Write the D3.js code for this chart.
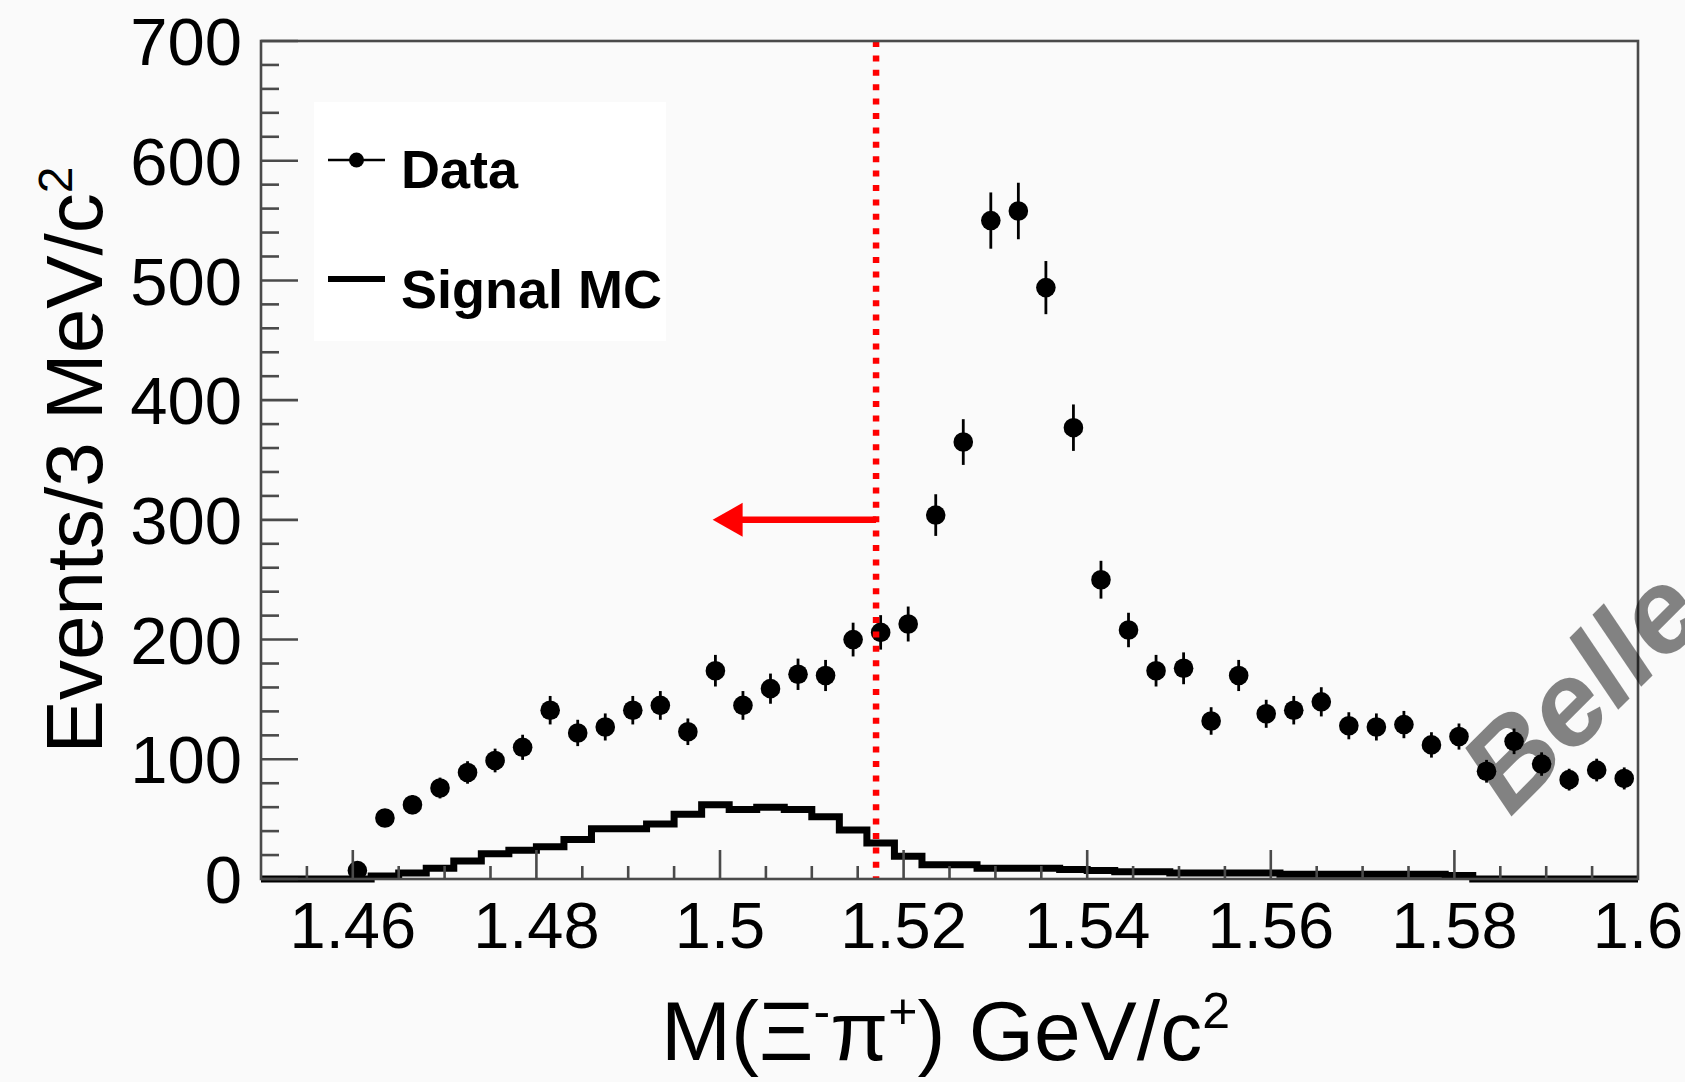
<!DOCTYPE html>
<html>
<head>
<meta charset="utf-8">
<script src="https://cdn.jsdelivr.net/npm/d3@7"></script>
<style>
  html, body { margin: 0; padding: 0; background: #fafafa; overflow: hidden; }
  svg { display: block; font-family: "Liberation Sans", Arial, Helvetica, sans-serif; }
</style>
</head>
<body>
<svg id="chart" width="1685" height="1082"></svg>
<script>
// ---- data -------------------------------------------------------------
// Data points: bin centres (GeV/c^2), events per 3 MeV/c^2, statistical errors
const dataMass = [1.4605, 1.4635, 1.4665, 1.4695, 1.4725, 1.4755, 1.4785, 1.4815, 1.4845, 1.4875,
                  1.4905, 1.4935, 1.4965, 1.4995, 1.5025, 1.5055, 1.5085, 1.5115, 1.5145, 1.5175,
                  1.5205, 1.5235, 1.5265, 1.5295, 1.5325, 1.5355, 1.5385, 1.5415, 1.5445, 1.5475,
                  1.5505, 1.5535, 1.5565, 1.5595, 1.5625, 1.5655, 1.5685, 1.5715, 1.5745, 1.5775,
                  1.5805, 1.5835, 1.5865, 1.5895, 1.5925, 1.5955, 1.5985];
const dataEvents = [7, 51, 62, 76, 89, 99, 110, 141, 122, 127,
                    141, 145, 123, 174, 145, 159, 171, 170, 200, 206,
                    213, 304, 365, 550, 558, 494, 377, 250, 208, 174,
                    176, 132, 170, 138, 141, 148, 128, 127, 129, 112,
                    119, 90, 115, 96, 83, 91, 84];
const dataErrors = [2.6, 7.1, 7.9, 8.7, 9.4, 9.9, 10.5, 11.9, 11.0, 11.3,
                    11.9, 12.0, 11.1, 13.2, 12.0, 12.6, 13.1, 13.0, 14.1, 14.4,
                    14.6, 17.4, 19.1, 23.5, 23.6, 22.2, 19.4, 15.8, 14.4, 13.2,
                    13.3, 11.5, 13.0, 11.7, 11.9, 12.2, 11.3, 11.3, 11.4, 10.6,
                    10.9, 9.5, 10.7, 9.8, 9.1, 9.5, 9.2];

// Signal MC histogram: lower bin edges (GeV/c^2) and contents
const mcBinLow = [1.450, 1.453, 1.456, 1.459, 1.462, 1.465, 1.468, 1.471, 1.474, 1.477,
                  1.480, 1.483, 1.486, 1.489, 1.492, 1.495, 1.498, 1.501, 1.504, 1.507,
                  1.510, 1.513, 1.516, 1.519, 1.522, 1.525, 1.528, 1.531, 1.534, 1.537,
                  1.540, 1.543, 1.546, 1.549, 1.552, 1.555, 1.558, 1.561, 1.564, 1.567,
                  1.570, 1.573, 1.576, 1.579, 1.582, 1.585, 1.588, 1.591, 1.594, 1.597];
const mcEvents = [0, 0, 0, 0, 2.5, 5, 9, 15, 21, 24,
                  27, 33, 42, 42, 46, 54, 62, 58, 60, 58,
                  52, 41, 30, 19, 12, 12, 9, 9, 9, 8,
                  7, 6, 6, 5, 5, 5, 5, 4, 4, 4,
                  4, 4, 4, 3, 0, 0, 0, 0, 0, 0];
const mcUpperEdge = 1.600;

// Selection cut and arrow
const cutMass = 1.517;
const arrowLevel = 300;
const arrowTipMass = 1.4992;

// Axes
const xDomain = [1.45, 1.60];
const yDomain = [0, 700];
const xTicks = [1.46, 1.48, 1.50, 1.52, 1.54, 1.56, 1.58, 1.60];
const xTickLabels = ["1.46", "1.48", "1.5", "1.52", "1.54", "1.56", "1.58", "1.6"];
const yTicks = [0, 100, 200, 300, 400, 500, 600, 700];
const yTickLabels = ["0", "100", "200", "300", "400", "500", "600", "700"];
const legendLabels = ["Data", "Signal MC"];

// ---- drawing ----------------------------------------------------------
const svg = d3.select("#chart");
const W = 1685, H = 1082;
const plot = { left: 261, right: 1638, top: 41, bottom: 879 };

const x = d3.scaleLinear().domain(xDomain).range([plot.left, plot.right]);
const y = d3.scaleLinear().domain(yDomain).range([plot.bottom, plot.top]);

svg.append("rect").attr("width", W).attr("height", H).attr("fill", "#fafafa");

// legend box (drawn under the data)
const leg = svg.append("g");
leg.append("rect").attr("x", 314).attr("y", 102).attr("width", 352).attr("height", 239)
  .attr("fill", "#ffffff");

// Signal MC histogram
const histPts = mcBinLow.map((e, i) => [e, mcEvents[i]]);
histPts.push([mcUpperEdge, mcEvents[mcEvents.length - 1]]);
const histLine = d3.line().x(d => x(d[0])).y(d => y(d[1])).curve(d3.curveStepAfter);
svg.append("path").attr("d", histLine(histPts))
  .attr("fill", "none").attr("stroke", "#000").attr("stroke-width", 7)
  .attr("stroke-linejoin", "miter");

// Data points with error bars
const dg = svg.append("g");
dataMass.forEach((m, i) => {
  dg.append("line")
    .attr("x1", x(m)).attr("x2", x(m))
    .attr("y1", y(dataEvents[i] - dataErrors[i])).attr("y2", y(dataEvents[i] + dataErrors[i]))
    .attr("stroke", "#000").attr("stroke-width", 2.8);
  dg.append("circle").attr("cx", x(m)).attr("cy", y(dataEvents[i])).attr("r", 9.8)
    .attr("fill", "#000");
});

// Red dotted cut line
svg.append("line")
  .attr("x1", x(cutMass)).attr("x2", x(cutMass))
  .attr("y1", y(yDomain[1])).attr("y2", y(yDomain[0]))
  .attr("stroke", "#ff0000").attr("stroke-width", 6.5).attr("stroke-dasharray", "6 8.4");

// Red arrow
const headLen = 30, headHalf = 17;
svg.append("line")
  .attr("x1", x(cutMass)).attr("x2", x(arrowTipMass) + headLen - 2)
  .attr("y1", y(arrowLevel)).attr("y2", y(arrowLevel))
  .attr("stroke", "#ff0000").attr("stroke-width", 6.5);
svg.append("path")
  .attr("d", `M${x(arrowTipMass)},${y(arrowLevel)} L${x(arrowTipMass) + headLen},${y(arrowLevel) - headHalf} L${x(arrowTipMass) + headLen},${y(arrowLevel) + headHalf} Z`)
  .attr("fill", "#ff0000");

// Frame
const frameColor = "#4a4a4a";
svg.append("rect")
  .attr("x", plot.left).attr("y", plot.top)
  .attr("width", plot.right - plot.left).attr("height", plot.bottom - plot.top)
  .attr("fill", "none").attr("stroke", frameColor).attr("stroke-width", 2.6);

// Y axis ticks
const yMinor = d3.range(0, 701, 20);
const ticksG = svg.append("g").attr("stroke", frameColor).attr("stroke-width", 2.6);
yMinor.forEach(v => {
  const major = v % 100 === 0;
  ticksG.append("line").attr("x1", plot.left).attr("x2", plot.left + (major ? 37 : 18))
    .attr("y1", y(v)).attr("y2", y(v));
});
// X axis ticks
const xMinor = d3.range(0, 30).map(k => 1.455 + k * 0.005).filter(v => v < 1.5999);
xMinor.forEach(v => {
  const major = Math.abs(Math.round(v * 50) - v * 50) < 1e-6;
  ticksG.append("line").attr("x1", x(v)).attr("x2", x(v))
    .attr("y1", plot.bottom).attr("y2", plot.bottom - (major ? 29 : 13));
});

// Tick labels
const yLab = svg.append("g").attr("font-size", 67).attr("fill", "#000").attr("text-anchor", "end");
yTicks.forEach((v, i) => {
  yLab.append("text").attr("x", 242).attr("y", y(v)).attr("dy", "0.36em").text(yTickLabels[i]);
});
const xLab = svg.append("g").attr("font-size", 65).attr("fill", "#000").attr("text-anchor", "middle");
xTicks.forEach((v, i) => {
  xLab.append("text").attr("x", x(v)).attr("y", 948).text(xTickLabels[i]);
});

// Axis titles
const xt = svg.append("text").attr("x", (plot.left + plot.right) / 2 - 4).attr("y", 1060)
  .attr("text-anchor", "middle").attr("font-size", 84).attr("fill", "#000");
xt.append("tspan").text("M(Ξ");
xt.append("tspan").attr("font-size", 50).attr("dy", -32).text("-");
xt.append("tspan").attr("dy", 32).text("π");
xt.append("tspan").attr("font-size", 50).attr("dy", -32).text("+");
xt.append("tspan").attr("dy", 32).text(") GeV/c");
xt.append("tspan").attr("font-size", 50).attr("dy", -32).text("2");

const yt = svg.append("text").attr("transform", "translate(102,460) rotate(-90)")
  .attr("text-anchor", "middle").attr("font-size", 80).attr("fill", "#000");
yt.append("tspan").text("Events/3 MeV/c");
yt.append("tspan").attr("font-size", 48).attr("dy", -30).text("2");

// Legend content
leg.append("line").attr("x1", 328).attr("x2", 385).attr("y1", 160).attr("y2", 160)
  .attr("stroke", "#000").attr("stroke-width", 2.5);
leg.append("circle").attr("cx", 356.5).attr("cy", 160).attr("r", 7.5).attr("fill", "#000");
leg.append("text").attr("x", 401).attr("y", 188).attr("font-size", 54).attr("font-weight", "bold")
  .text(legendLabels[0]);
leg.append("line").attr("x1", 328).attr("x2", 385).attr("y1", 279).attr("y2", 279)
  .attr("stroke", "#000").attr("stroke-width", 6);
leg.append("text").attr("x", 401).attr("y", 308).attr("font-size", 54).attr("font-weight", "bold")
  .text(legendLabels[1]);

// Watermark
svg.append("text").attr("transform", "translate(1510,818) rotate(-45)")
  .attr("font-size", 118).attr("font-weight", "bold").attr("font-style", "italic")
  .attr("fill", "#000").attr("fill-opacity", 0.48).text("Belle");
</script>
</body>
</html>
